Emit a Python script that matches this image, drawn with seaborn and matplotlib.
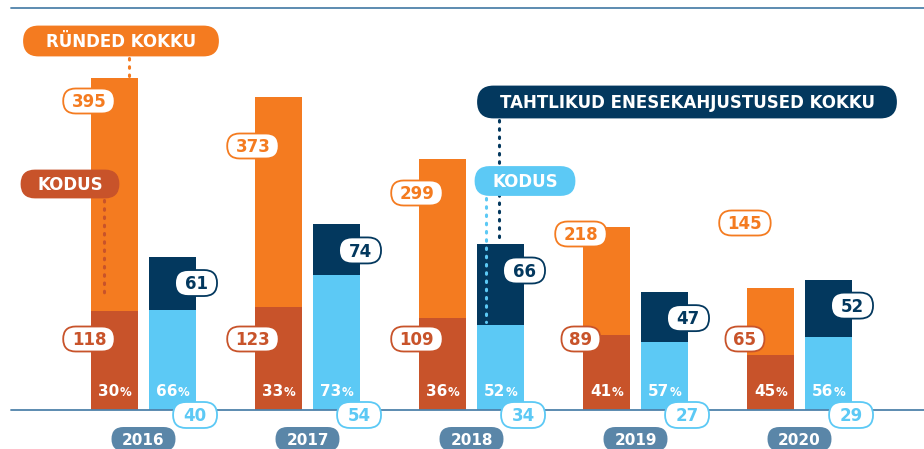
import numpy as np
import pandas as pd
import matplotlib
matplotlib.use("Agg")
import matplotlib.pyplot as plt
import seaborn as sns
from matplotlib.patches import FancyBboxPatch

# ---------------- data ----------------
years = ["2016", "2017", "2018", "2019", "2020"]
attacks_total = [395, 373, 299, 218, 145]
attacks_home = [118, 123, 109, 89, 65]
attacks_home_pct = [30, 33, 36, 41, 45]
selfharm_total = [61, 74, 66, 47, 52]
selfharm_home = [40, 54, 34, 27, 29]
selfharm_home_pct = [66, 73, 52, 57, 56]

label_attacks = "RÜNDED KOKKU"
label_selfharm = "TAHTLIKUD ENESEKAHJUSTUSED KOKKU"
label_home = "KODUS"

# ---------------- style ----------------
ORANGE = "#F47B20"
RUST = "#C8532A"
NAVY = "#03385E"
SKY = "#5CC9F5"
STEEL = "#5A86A8"
LINE = "#4F82AA"

W, H = 924, 449
BASE_PX = 410
ORANGE_YMAX = 488
NAVY_YMAX = 163.5
OFF = 0.177
BW = 0.287
NUMFONT = ["DejaVu Sans"]
CAPFONT = ["DejaVu Sans"]

sns.set_theme(style="white")
plt.rcParams["font.family"] = ["DejaVu Sans"]

fig = plt.figure(figsize=(W / 100, H / 100), dpi=100)
ax = fig.add_axes([0, (H - BASE_PX) / H, 1, BASE_PX / H])
ax2 = ax.twinx()
ax2.set_position([0, (H - BASE_PX) / H, 1, BASE_PX / H])

idx = np.arange(len(years))
df = pd.DataFrame({
    "xa": idx - OFF, "xs": idx + OFF,
    "at": attacks_total, "ah": attacks_home,
    "st": selfharm_total, "sh": selfharm_home,
})

common = dict(native_scale=True, width=BW, orient="x", saturation=1,
              errorbar=None, linewidth=0)
sns.barplot(data=df, x="xa", y="at", color=ORANGE, ax=ax, **common)
sns.barplot(data=df, x="xa", y="ah", color=RUST, ax=ax, **common)
sns.barplot(data=df, x="xs", y="st", color=NAVY, ax=ax2, **common)
sns.barplot(data=df, x="xs", y="sh", color=SKY, ax=ax2, **common)

x_left = -143.5 / 164
x_right = (W - 143.5) / 164
for a in (ax, ax2):
    a.set_xlim(x_left, x_right)
    a.axis("off")
ax.set_ylim(0, ORANGE_YMAX)
ax2.set_ylim(0, NAVY_YMAX)

# overlay in pixel coordinates
ov = fig.add_axes([0, 0, 1, 1], zorder=10)
ov.set_xlim(0, W)
ov.set_ylim(H, 0)
ov.axis("off")
ov.patch.set_alpha(0)


def xpx(x):
    return ax.transData.transform((x, 0))[0]


def ypx(a, v):
    return H - a.transData.transform((0, v))[1]


def pill(cx, cy, w, h, fc, ec, text, tc, fs, family, weight="bold", lw=1.3, z=3):
    p = FancyBboxPatch((cx - w / 2, cy - h / 2), w, h,
                       boxstyle=f"round,pad=0,rounding_size={h / 2}",
                       fc=fc, ec=ec, lw=lw, zorder=z)
    ov.add_patch(p)
    cap = 0.73 * fs * 100 / 72
    ov.text(cx, cy + cap / 2, text, ha="center", va="baseline", color=tc,
            fontsize=fs, family=family, fontweight=weight, zorder=z + 1)


def dotted(x, y0, y1, color):
    ov.plot([x, x], [y0, y1], color=color, lw=2.2, linestyle=(0, (0.5, 2.2)),
            dash_capstyle="round", zorder=2)


# lines
ov.plot([11, W], [8, 8], color=LINE, lw=1.3, zorder=1)
ov.plot([11, W], [BASE_PX, BASE_PX], color=LINE, lw=1.3, zorder=1)

# legend-like callouts
dotted(129, 58, ypx(ax, attacks_total[0]) - 2, ORANGE)
pill(121, 41, 194, 29, ORANGE, ORANGE, label_attacks, "white", 12, CAPFONT)
dotted(104, 200, 296, RUST)
pill(70, 184, 97, 27, RUST, RUST, label_home, "white", 12, CAPFONT)
dotted(499, 120, ypx(ax2, selfharm_total[2]) - 2, NAVY)
pill(687, 102, 418, 31, NAVY, NAVY, label_selfharm, "white", 12, CAPFONT)
dotted(486, 198, ypx(ax2, selfharm_home[2]) - 3, SKY)
pill(525, 181, 99, 28, SKY, SKY, label_home, "white", 12, CAPFONT)

attacks_label_y = [101, 146, 193, 234, 223]
NUM_FS = 12

for i in range(len(years)):
    a_left = xpx(i - OFF - BW / 2)
    a_ctr = xpx(i - OFF)
    s_ctr = xpx(i + OFF)
    s_right = xpx(i + OFF + BW / 2)
    g_ctr = xpx(i)

    t = str(attacks_total[i])
    pill(a_left - 2, attacks_label_y[i], 14 + 12.5 * len(t), 25, "white", ORANGE,
         t, ORANGE, NUM_FS, NUMFONT)
    t = str(attacks_home[i])
    pill(a_left - 2, 339, 14 + 12.5 * len(t), 25, "white", RUST,
         t, RUST, NUM_FS, NUMFONT)
    t = str(selfharm_total[i])
    pill(s_right, ypx(ax2, selfharm_total[i]) + 26, 42, 26, "white", NAVY,
         t, NAVY, NUM_FS, NUMFONT)
    t = str(selfharm_home[i])
    pill(s_right - 1, 415, 44, 26, "white", SKY,
         t, SKY, NUM_FS, NUMFONT)

    # percentages
    for cx, v in ((a_ctr, attacks_home_pct[i]), (s_ctr, selfharm_home_pct[i])):
        ov.text(cx + 5, 396, str(v), ha="right", va="baseline", color="white",
                fontsize=11, family=NUMFONT, fontweight="bold", zorder=4)
        ov.text(cx + 5.5, 396, "%", ha="left", va="baseline", color="white",
                fontsize=8.5, family=NUMFONT, fontweight="bold", zorder=4)

    pill(g_ctr, 439, 64, 24, STEEL, STEEL, years[i], "white", 11, NUMFONT,
         lw=0)

fig.savefig("out.png", dpi=100)
